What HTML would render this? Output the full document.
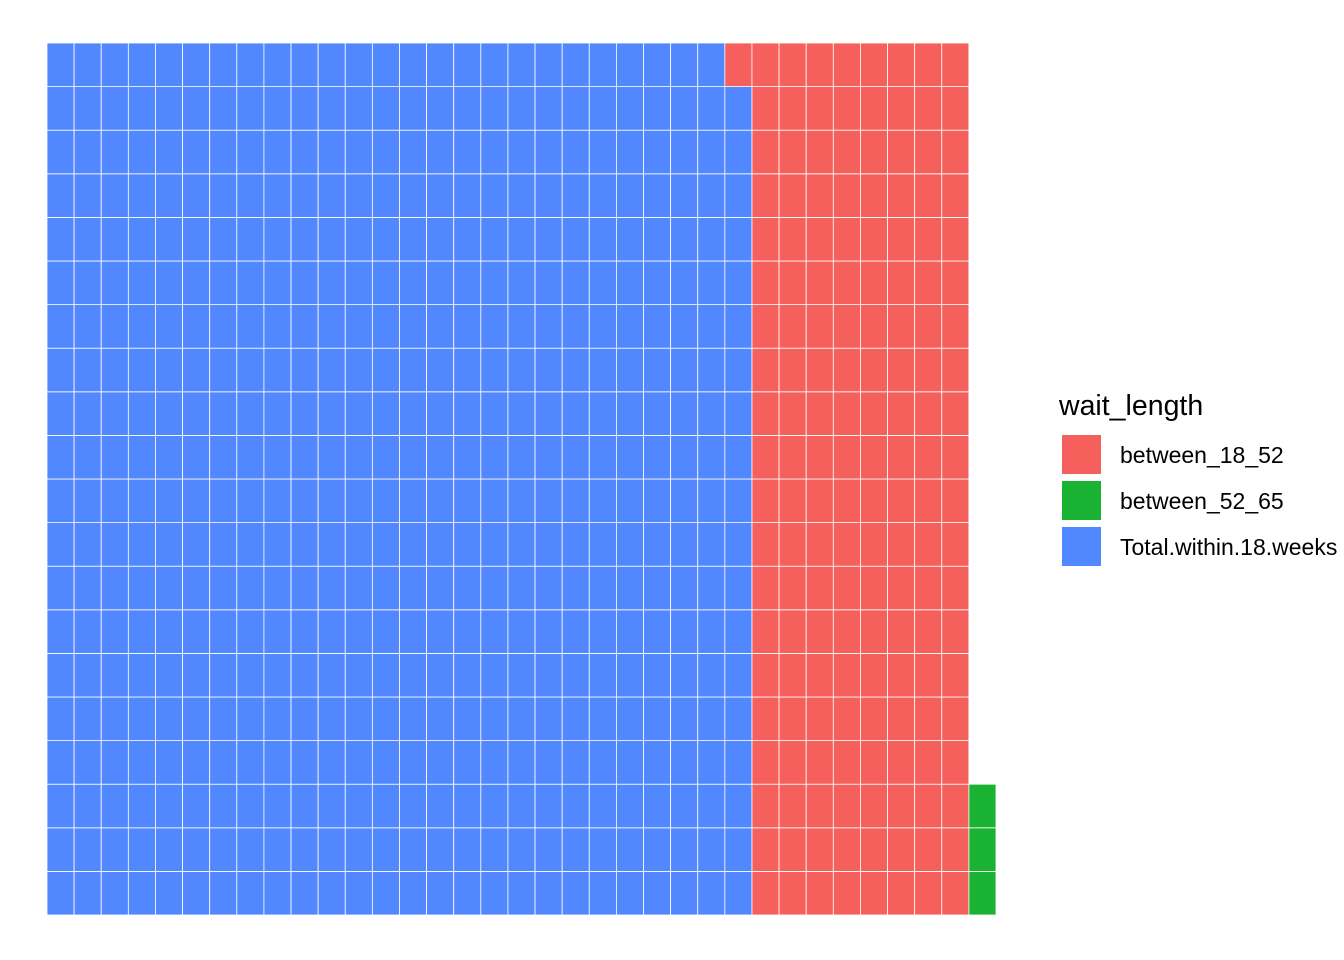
<!DOCTYPE html>
<html><head><meta charset="utf-8"><style>
body{margin:0;background:#fff;}
svg{display:block;font-family:"Liberation Sans",Arial,sans-serif;}
</style></head><body>
<svg id="chart" width="1344" height="960" viewBox="0 0 1344 960" xmlns="http://www.w3.org/2000/svg">
<g id="cells"></g>
<g id="legend">
<text x="1059" y="415" font-size="28.5" fill="#000">wait_length</text>
</g>
</svg>
<script>
const categories = ["Total.within.18.weeks", "between_18_52", "between_52_65"];
const counts = [519, 161, 3];
const legendOrder = ["between_18_52", "between_52_65", "Total.within.18.weeks"];
const colors = {"between_18_52":"#F5605C","between_52_65":"#19B233","Total.within.18.weeks":"#5288FF"};
const nRows = 20;
const x0 = 47, y0 = 43, plotW = 949, plotH = 872;
const nCols = Math.ceil(counts.reduce((a,b)=>a+b,0)/nRows);
const cw = plotW / nCols, ch = plotH / nRows;
const NS = "http://www.w3.org/2000/svg";
const g = document.getElementById('cells');
let idx = 0;
categories.forEach((cat, ci) => {
  for (let k = 0; k < counts[ci]; k++) {
    const col = Math.floor(idx / nRows), row = idx % nRows;
    const r = document.createElementNS(NS, 'rect');
    r.setAttribute('x', x0 + col * cw);
    r.setAttribute('y', y0 + plotH - (row + 1) * ch);
    r.setAttribute('width', cw);
    r.setAttribute('height', ch);
    r.setAttribute('fill', colors[cat]);
    r.setAttribute('stroke', '#fff');
    r.setAttribute('stroke-width', '0.8');
    
    
    g.appendChild(r);
    idx++;
  }
});
const lg = document.getElementById('legend');
legendOrder.forEach((cat, i) => {
  const y = 435 + i * 46;
  const r = document.createElementNS(NS, 'rect');
  r.setAttribute('x', 1062); r.setAttribute('y', y);
  r.setAttribute('width', 39); r.setAttribute('height', 39);
  r.setAttribute('fill', colors[cat]);
  
  
  lg.appendChild(r);
  const t = document.createElementNS(NS, 'text');
  t.setAttribute('x', 1120); t.setAttribute('y', y + 28);
  t.setAttribute('font-size', '23');
  t.textContent = cat;
  
  
  lg.appendChild(t);
});
</script>
</body></html>
